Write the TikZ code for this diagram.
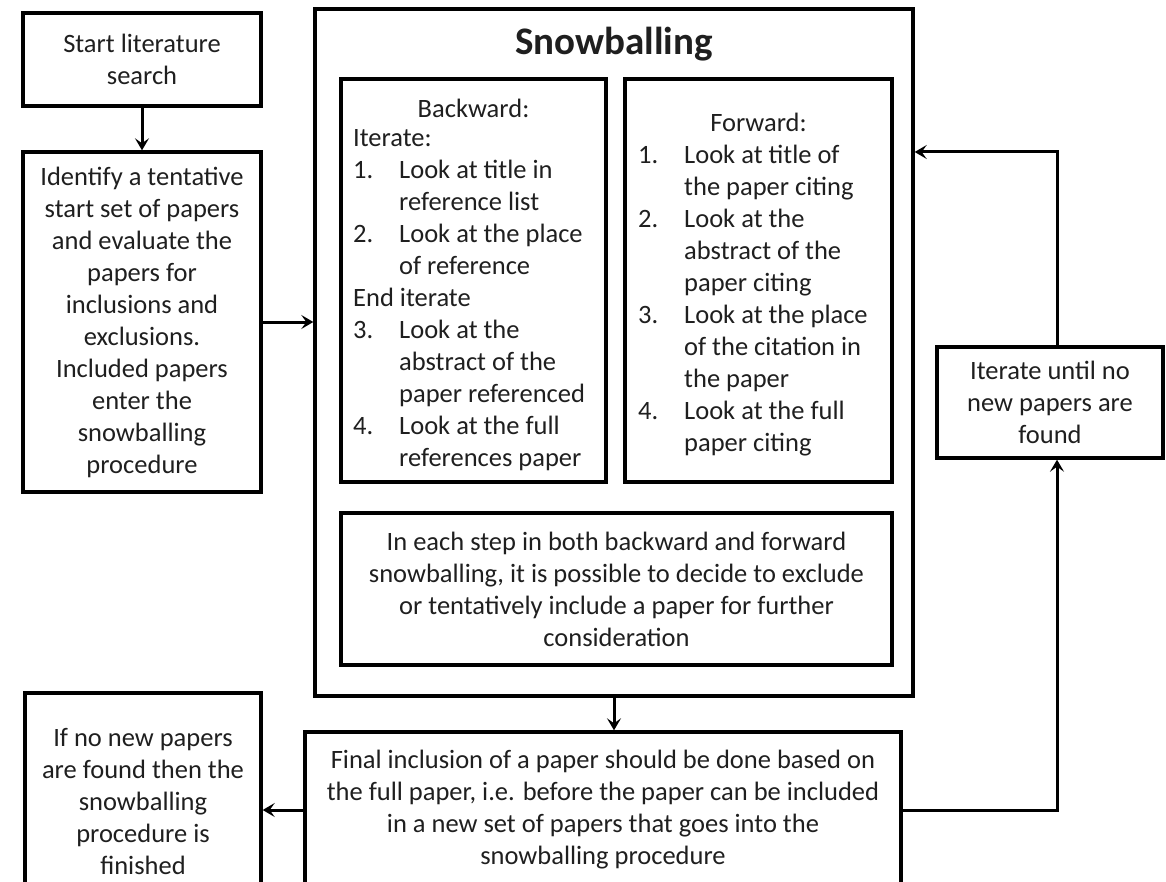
\documentclass[tikz,border=0pt]{standalone}
\usepackage{fontspec}
\setmainfont{Carlito}
\usetikzlibrary{arrows.meta,calc}
\newcommand{\lnum}[1]{\makebox[46pt][l]{#1}}
\newcommand{\lind}{\hspace*{46pt}}
\tikzset{
  box/.style={draw=black, line width=3.4pt, inner sep=0pt, align=center,
    font=\fontsize{26.5}{32}\selectfont, text=black!88},
  txt/.style={inner sep=0pt, font=\fontsize{26.5}{32}\selectfont, text=black!88},
  arr/.style={line width=3pt, -{Stealth[length=12pt,width=14pt,inset=5pt]}},
}
\begin{document}
\begin{tikzpicture}[x=1pt,y=-1pt]
\useasboundingbox (0,0) rectangle (1166,882);
\fill[white] (0,0) rectangle (1166,882);
\clip (0,0) rectangle (1166,882);

\node[box, minimum width=238pt, minimum height=93pt] (start) at (142,59.5) {Start literature\\search};
\node[box, minimum width=238pt, minimum height=340pt] (idf) at (142,322)
  {Identify a tentative\\start set of papers\\and evaluate the\\papers for\\inclusions and\\exclusions.\\Included papers\\enter the\\snowballing\\procedure};

\node[box, minimum width=598pt, minimum height=687pt] (snow) at (614,352.5) {};
\node[txt, font=\fontsize{39}{44}\selectfont\bfseries] (title) at (614,44) {Snowballing};

\node[box, minimum width=265pt, minimum height=403pt] (bwd) at (473.5,280.5) {};
\node[txt] (bwdh) at (473.5,108) {Backward:};
\node[txt, anchor=north west, align=left] (bwdl) at (353,123.6)
  {\strut Iterate:\\
   \lnum{1.}Look at title in\\
   \lind reference list\\
   \lnum{2.}Look at the place\\
   \lind of reference\\
   End iterate\\
   \lnum{3.}Look at the\\
   \lind abstract of the\\
   \lind paper referenced\\
   \lnum{4.}Look at the full\\
   \lind references paper};

\node[box, minimum width=267pt, minimum height=403pt] (fwd) at (758.5,280.5) {};
\node[txt] (fwdh) at (758.5,122) {Forward:};
\node[txt, anchor=north west, align=left] (fwdl) at (638,140.6)
  {\strut\lnum{1.}Look at title of\\
   \lind the paper citing\\
   \lnum{2.}Look at the\\
   \lind abstract of the\\
   \lind paper citing\\
   \lnum{3.}Look at the place\\
   \lind of the citation in\\
   \lind the paper\\
   \lnum{4.}Look at the full\\
   \lind paper citing};

\node[box, minimum width=551pt, minimum height=152pt] (cons) at (616.5,589)
  {In each step in both backward and forward\\snowballing, it is possible to decide to exclude\\or tentatively include a paper for further\\consideration};

\node[box, minimum width=596pt, minimum height=156pt] (final) at (603,810)
  {Final inclusion of a paper should be done based on\\the full paper, i.e. before the paper can be included\\in a new set of papers that goes into the\\snowballing procedure};

\node[box, minimum width=236pt, minimum height=218pt] (ifb) at (143,802)
  {If no new papers\\are found then the\\snowballing\\procedure is\\finished};

\node[box, minimum width=226pt, minimum height=111pt] (iter) at (1050,402.5)
  {Iterate until no\\new papers are\\found};

\coordinate (rx) at (1057,0);
\coordinate (ty) at (0,152);

\draw[arr] (start) -- (idf);
\draw[arr] (idf.east) -- (idf.east -| snow.west);
\draw[arr] (snow.south) -- (snow.south |- final.north);
\draw[arr] (final.west) -- (final.west -| ifb.east);
\draw[arr] (final.east) -| (rx |- iter.south);
\draw[arr] (rx |- iter.north) |- (ty -| snow.east);
\end{tikzpicture}
\end{document}
